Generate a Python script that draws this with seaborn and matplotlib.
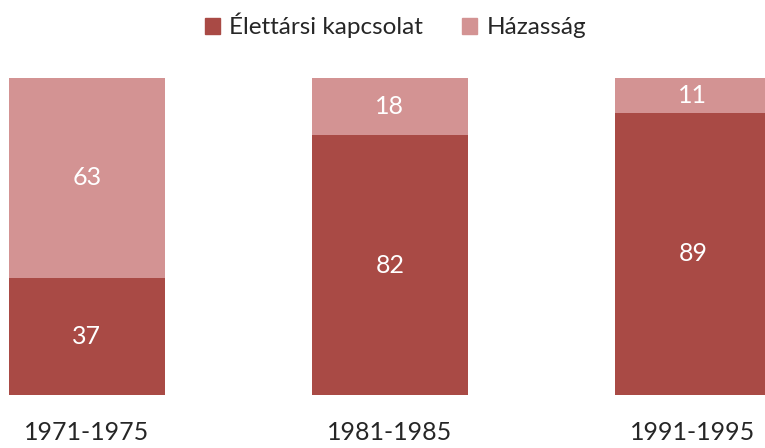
import matplotlib
matplotlib.use('Agg')
import matplotlib.pyplot as plt
import seaborn as sns
import pandas as pd
from matplotlib.patches import Patch

periods = ['1971-1975', '1981-1985', '1991-1995']
elettarsi = [37, 82, 89]
hazassag = [63, 18, 11]

dark = '#A94A45'
light = '#D39393'

sns.set_style('white')
plt.rcParams['font.family'] = ['Lato', 'DejaVu Sans']

df = pd.DataFrame({'period': periods, 'elettarsi': elettarsi, 'hazassag': hazassag})
df['total'] = df['elettarsi'] + df['hazassag']

fig = plt.figure(figsize=(7.65, 4.48), dpi=100)
ax = fig.add_axes([0, 53 / 448, 1, 317 / 448])

sns.barplot(data=df, x='period', y='total', color=light, width=0.515, saturation=1,
            linewidth=0, ax=ax)
sns.barplot(data=df, x='period', y='elettarsi', color=dark, width=0.515, saturation=1,
            linewidth=0, ax=ax)

for i, row in df.iterrows():
    ax.text(i, row['elettarsi'] / 2, str(row['elettarsi']), ha='center', va='center',
            color='white', fontsize=18)
    ax.text(i, row['elettarsi'] + row['hazassag'] / 2, str(row['hazassag']), ha='center',
            va='center', color='white', fontsize=18)

ax.set_xlim(-0.287, 2.238)
ax.set_ylim(0, 100)
ax.set_xlabel('')
ax.set_ylabel('')
ax.set_yticks([])
ax.tick_params(axis='x', length=0, pad=19, labelsize=18)
sns.despine(ax=ax, left=True, bottom=True)

handles = [Patch(color=dark, label='Élettársi kapcsolat'), Patch(color=light, label='Házasság')]
fig.legend(handles=handles, loc='upper center', bbox_to_anchor=(0.517, 1.02), ncol=2,
           frameon=False, fontsize=17.5, handlelength=0.6, handleheight=0.6,
           handletextpad=0.4, columnspacing=1.6)

fig.savefig('out.png', dpi=100)
